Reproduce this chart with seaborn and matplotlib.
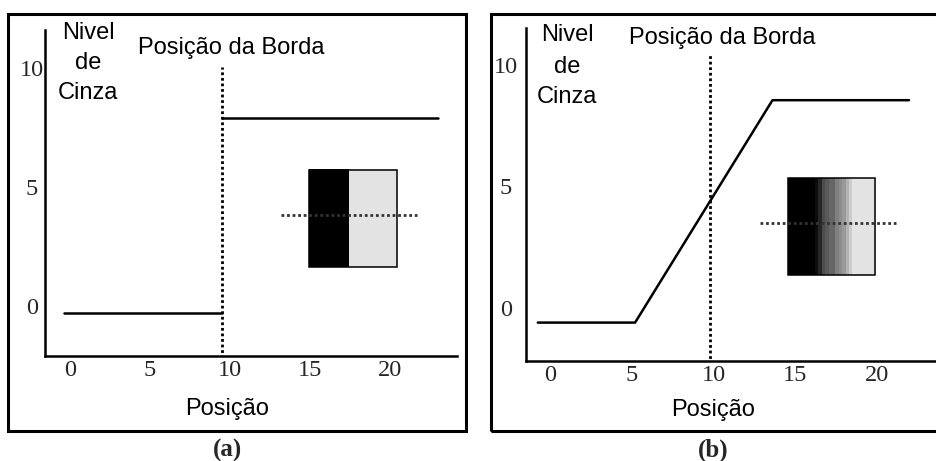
import matplotlib
matplotlib.use('Agg')
import matplotlib.pyplot as plt
import seaborn as sns
import numpy as np
from matplotlib.patches import Rectangle

sns.set_style('white')
plt.rcParams['font.family'] = ['Liberation Sans', 'DejaVu Sans']

# 데이터: (a) 계단형 에지, (b) 램프형 에지
ticks_x = [0, 5, 10, 15, 20]
ticks_y = [0, 5, 10]

a_low_x = [-0.4, 9.5]
a_low_y = [-0.3, -0.3]
a_high_x = [9.5, 23.0]
a_high_y = [7.9, 7.9]
a_edge = 9.5

b_x = [-0.75, 5.2, 13.6, 21.95]
b_y = [-0.6, -0.6, 8.55, 8.55]
b_edge = 9.8

# 작은 그림의 회색 단계 (0=검정, 1=흰색)
a_profile = [0.0] * 9 + [0.89] * 11
b_profile = [0.0] * 8 + [0.05, 0.15, 0.3, 0.35, 0.4, 0.4, 0.5, 0.55, 0.6, 0.7, 0.8] + [0.89] * 7

W, H = 936, 461
fig = plt.figure(figsize=(W / 100, H / 100), dpi=100)


def fx(x):
    return x / W


def fy(y):
    return 1 - y / H


def make_axes(left, right, top, bottom):
    return fig.add_axes([fx(left), fy(bottom), fx(right - left), (bottom - top) / H])


def style_axes(ax, ypad):
    sns.despine(ax=ax)
    for s in ['left', 'bottom']:
        ax.spines[s].set_linewidth(1.8)
        ax.spines[s].set_color('black')
    ax.set_xticks(ticks_x)
    ax.set_yticks(ticks_y)
    ax.tick_params(length=0, labelsize=17.5)
    ax.tick_params(axis='y', pad=ypad)
    ax.tick_params(axis='x', pad=3)
    for lab in ax.get_xticklabels() + ax.get_yticklabels():
        lab.set_family('Liberation Serif')
    for lab in ax.get_yticklabels():
        lab.set_ha('center')
    ax.set_xlabel('')
    ax.set_ylabel('')


def inset(ax, profile, x0, x1, y0, y1, dx0, dx1, dy):
    img = np.array([profile])
    ax.imshow(img, cmap='gray', vmin=0, vmax=1, extent=[x0, x1, y0, y1],
              aspect='auto', interpolation='nearest', zorder=3)
    ax.add_patch(Rectangle((x0, y0), x1 - x0, y1 - y0, fill=False,
                           ec='black', lw=1.1, zorder=4))
    ax.plot([dx0, dx1], [dy, dy], color='#333333', lw=2.0,
            ls=(0, (1, 1.0)), zorder=5)


# (a)
ax1 = make_axes(45, 457, 30, 356)
sns.lineplot(x=a_low_x, y=a_low_y, color='black', lw=1.8, ax=ax1)
sns.lineplot(x=a_high_x, y=a_high_y, color='black', lw=1.8, ax=ax1)
ax1.vlines(a_edge, -2.2, 10.06, color='black', lw=2.0, linestyles=[(0, (1, 1.0))])
inset(ax1, a_profile, 14.94, 20.44, 1.64, 5.73, 13.2, 21.7, 3.83)
ax1.set_xlim(-1.5625, 24.19)
ax1.set_ylim(-2.1, 11.62)
style_axes(ax1, 9.4)

# (b)
ax2 = make_axes(526, 936, 28, 361)
sns.lineplot(x=b_x, y=b_y, color='black', lw=1.8, ax=ax2)
ax2.vlines(b_edge, -2.3, 10.4, color='black', lw=2.0, linestyles=[(0, (1, 1.0))])
inset(ax2, b_profile, 14.56, 19.88, 1.36, 5.35, 12.84, 21.16, 3.5)
ax2.set_xlim(-1.47, 23.6)
ax2.set_ylim(-2.18, 11.52)
style_axes(ax2, 14.4)

# 바깥 테두리
for left, right in [(8, 466), (491, 945)]:
    fig.add_artist(Rectangle((fx(left), fy(431)), fx(right - left), (431 - 14) / H,
                             transform=fig.transFigure, fill=False, ec='black', lw=2.2))

txt = dict(fontsize=17, ha='center', va='center', color='black')
for cx, ys in [(88, [33, 63, 93]), (567, [35, 67, 97])]:
    for word, yy in zip(['Nivel', 'de', 'Cinza'], ys):
        fig.text(fx(cx), fy(yy), word, **txt)
fig.text(fx(231), fy(48), 'Posição da Borda', **txt)
fig.text(fx(722), fy(38), 'Posição da Borda', **txt)
fig.text(fx(227), fy(409), 'Posição', **txt)
fig.text(fx(713), fy(410), 'Posição', **txt)
fig.text(fx(227), fy(450), '(a)', fontsize=18, ha='center', va='center',
         family='Liberation Serif', weight='bold')
fig.text(fx(713), fy(450), '(b)', fontsize=18, ha='center', va='center',
         family='Liberation Serif', weight='bold')

fig.savefig('out.png', dpi=100)
